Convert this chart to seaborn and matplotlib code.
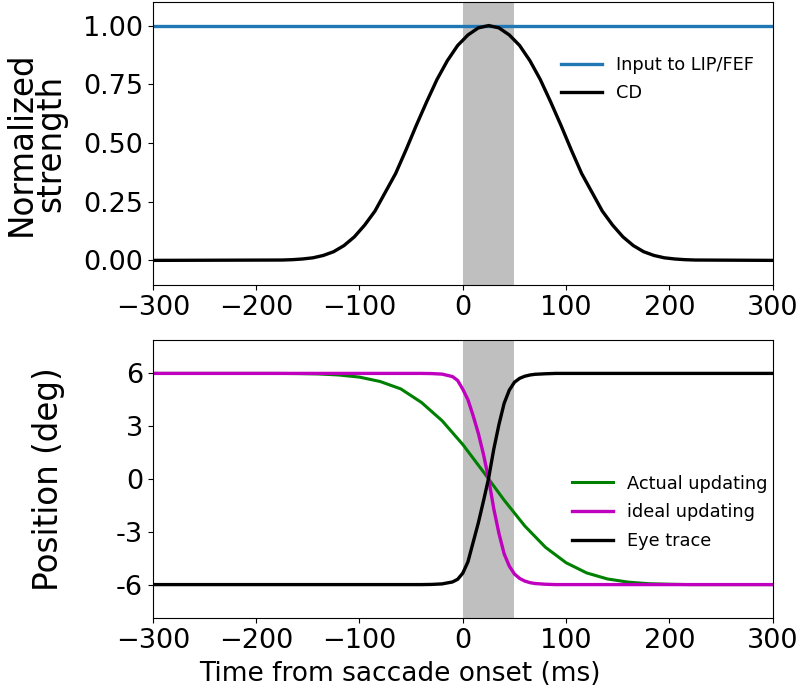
import numpy as np
import pandas as pd
import matplotlib
matplotlib.use("Agg")
import matplotlib.pyplot as plt
import seaborn as sns

# top panel: corollary discharge profile
cd_time = [-300, -175, -165, -155, -145, -135, -125, -115, -105, -95, -85, -75,
           -65, -55, -45, -35, -25, -15, -5, 5, 15, 25, 35, 45, 55, 65, 75, 85,
           95, 105, 115, 125, 135, 145, 155, 165, 175, 185, 195, 205, 215, 225, 300]
cd_value = [0, 0.0015, 0.003, 0.006, 0.011, 0.021, 0.037, 0.063, 0.10, 0.15, 0.21, 0.29,
            0.37, 0.47, 0.575, 0.675, 0.77, 0.85, 0.915, 0.96, 0.99, 1.0, 0.99, 0.96,
            0.915, 0.85, 0.77, 0.675, 0.575, 0.47, 0.37, 0.29, 0.21, 0.15, 0.10,
            0.063, 0.037, 0.021, 0.011, 0.006, 0.003, 0.0015, 0]
input_time = [-300, 300]
input_value = [1.0, 1.0]

# bottom panel: position traces
fast_time = [-300, -40, -30, -20, -10, -5, 0, 5, 10, 15, 20, 25, 30, 35, 40, 45,
             50, 55, 60, 65, 70, 80, 90, 300]
ideal_pos = [6, 6, 5.99, 5.96, 5.82, 5.6, 5.1, 4.5, 3.6, 2.6, 1.4, 0, -1.7, -3.1,
             -4.25, -4.95, -5.4, -5.65, -5.8, -5.89, -5.94, -5.98, -6, -6]
eye_pos = [-6, -6, -5.99, -5.96, -5.85, -5.7, -5.35, -4.7, -3.6, -2.5, -1.25, 0.05,
           1.7, 3.1, 4.3, 5.05, 5.5, 5.72, 5.84, 5.91, 5.95, 5.98, 6, 6]
actual_time = [-300, -200, -180, -160, -140, -120, -100, -80, -60, -40, -20, 0, 20,
               40, 60, 80, 100, 120, 140, 160, 180, 200, 220, 300]
actual_pos = [6, 6, 6, 5.99, 5.97, 5.91, 5.79, 5.54, 5.12, 4.35, 3.31, 1.96, 0.40,
              -1.20, -2.67, -3.88, -4.76, -5.34, -5.68, -5.86, -5.95, -5.98, -6, -6]

saccade = (0, 50)
xticks = [-300, -200, -100, 0, 100, 200, 300]
pos_ticks = [6, 3, 0, -3, -6]
pos_labels = ["6", "3", "0", "-3", "-6"]

fig = plt.figure(figsize=(8, 6.91), dpi=100)
ax1 = fig.add_axes([0.191, 0.5875, 0.775, 0.4095])
ax2 = fig.add_axes([0.191, 0.1056, 0.775, 0.4024])

for ax in (ax1, ax2):
    ax.axvspan(*saccade, color="gray", alpha=0.5, lw=0)

sns.lineplot(x=input_time, y=input_value, ax=ax1, color="#1f77b4", lw=2.4,
             label="Input to LIP/FEF")
sns.lineplot(x=cd_time, y=cd_value, ax=ax1, color="black", lw=2.4, label="CD")
ax1.set_ylim(-0.105, 1.1)
ax1.set_yticks([0, 0.25, 0.5, 0.75, 1.0])
ax1.set_yticklabels(["0.00", "0.25", "0.50", "0.75", "1.00"])
ax1.set_ylabel("Normalized\nstrength", fontsize=23.5, linespacing=0.88)
ax1.yaxis.set_label_coords(-0.138, 0.5)
ax1.legend(loc="upper right", bbox_to_anchor=(0.995, 0.866), frameon=False,
           fontsize=12.8, handlelength=2.3, labelspacing=0.55)

sns.lineplot(x=actual_time, y=actual_pos, ax=ax2, color="green", lw=2.2,
             label="Actual updating")
sns.lineplot(x=fast_time, y=ideal_pos, ax=ax2, color="m", lw=2.4,
             label="ideal updating")
sns.lineplot(x=fast_time, y=eye_pos, ax=ax2, color="black", lw=2.4, label="Eye trace")
ax2.set_ylim(-7.9, 7.9)
ax2.set_yticks(pos_ticks)
ax2.set_yticklabels(pos_labels)
ax2.set_ylabel("Position (deg)", fontsize=23.5)
ax2.yaxis.set_label_coords(-0.142, 0.5)
ax2.set_xlabel("Time from saccade onset (ms)", fontsize=19)
ax2.xaxis.set_label_coords(0.398, -0.155)
ax2.legend(loc="center right", bbox_to_anchor=(1.017, 0.38), frameon=False,
           fontsize=12.8, handlelength=2.3, labelspacing=0.6)

for ax in (ax1, ax2):
    ax.set_xlim(-300, 300)
    ax.set_xticks(xticks)
    ax.tick_params(labelsize=19.5)

fig.savefig("out.png", dpi=100)
